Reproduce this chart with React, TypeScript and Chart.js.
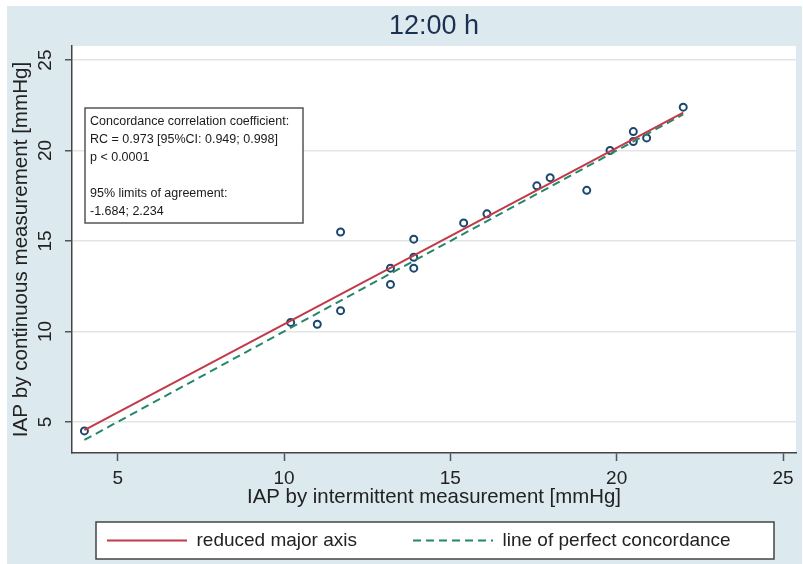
import React, { useEffect, useRef } from 'react';
import { Chart, registerables } from 'chart.js';

Chart.register(...registerables);

const titleText = '12:00 h';
const xTitle = 'IAP by intermittent measurement [mmHg]';
const yTitle = 'IAP by continuous measurement [mmHg]';
const tickValues = [5, 10, 15, 20, 25];

const intermittent = [4.0, 10.2, 11.0, 11.7, 11.7, 13.2, 13.2, 13.9, 13.9, 13.9, 15.4, 16.1, 17.6, 18.0, 19.1, 19.8, 20.5, 20.5, 20.9, 22.0];
const continuous = [4.5, 10.5, 10.4, 15.5, 11.15, 13.5, 12.6, 15.1, 14.1, 13.5, 16.0, 16.5, 18.05, 18.5, 17.8, 20.0, 21.05, 20.5, 20.7, 22.4];

const rmaX = [4, 22];
const rmaY = [4.55, 22.1];
const perfectX = [4, 22];
const perfectY = [4, 22];

const legendLabels = ['reduced major axis', 'line of perfect concordance'];

const infoLines = [
  'Concordance correlation coefficient:',
  'RC = 0.973 [95%CI: 0.949; 0.998]',
  'p < 0.0001',
  '',
  '95% limits of agreement:',
  '-1.684; 2.234',
];

const FONT = '"Liberation Sans", Arial, Helvetica, sans-serif';
const RED = '#c23a48';
const GREEN = '#23886a';
const NAVY = '#1a476f';
const TEXT = '#222222';

const decorPlugin = {
  id: 'decor',
  afterLayout(chart: any) {
    const ca = chart.chartArea;
    const tb = chart.titleBlock;
    if (tb) {
      tb.left = ca.left;
      tb.right = ca.right;
      tb.width = ca.right - ca.left;
    }
    const lg = chart.legend;
    if (lg && lg.lineWidths) {
      const pad = lg.options.labels.padding;
      const R = chart.width;
      const lw = lg.lineWidths[0];
      const target = 100;
      lg.right = R;
      lg.left = 2 * target - pad - R + lw;
      lg.width = lg.right - lg.left;
      lg.top = 534.5 - pad - 9.5;
      lg.height = 90;
      lg.bottom = lg.top + lg.height;
    }
  },
  beforeDraw(chart: any) {
    const { ctx, chartArea: ca } = chart;
    ctx.save();
    ctx.fillStyle = '#ffffff';
    ctx.fillRect(ca.left, ca.top, ca.right - ca.left, ca.bottom - ca.top);
    const cx = (ca.left + ca.right) / 2 + 1;
    const top = 516;
    ctx.fillStyle = '#ffffff';
    ctx.fillRect(cx - 339, top, 678, 37);
    ctx.strokeStyle = '#444444';
    ctx.lineWidth = 1.5;
    ctx.strokeRect(cx - 339, top, 678, 37);
    ctx.restore();
  },
  afterDraw(chart: any) {
    const { ctx, chartArea: ca } = chart;
    const x0 = ca.left + 13;
    const y0 = ca.top + 62;
    ctx.save();
    ctx.fillStyle = '#ffffff';
    ctx.fillRect(x0, y0, 218, 115);
    ctx.strokeStyle = '#555555';
    ctx.lineWidth = 1.5;
    ctx.strokeRect(x0, y0, 218, 115);
    ctx.fillStyle = '#1a1a1a';
    ctx.font = `12.5px ${FONT}`;
    ctx.textBaseline = 'middle';
    ctx.textAlign = 'left';
    infoLines.forEach((t, i) => {
      if (t) ctx.fillText(t, x0 + 5, y0 + 14 + i * 18);
    });
    ctx.restore();
  },
};

export default function App() {
  const ref = useRef<HTMLCanvasElement | null>(null);

  useEffect(() => {
    if (!ref.current) return;
    const setTicks = (s: any) => {
      s.ticks = tickValues.map((v) => ({ value: v }));
    };
    const chart = new Chart(ref.current, {
      type: 'scatter',
      data: {
        datasets: [
          {
            label: legendLabels[0],
            data: rmaX.map((x, i) => ({ x, y: rmaY[i] })),
            showLine: true,
            borderColor: RED,
            backgroundColor: RED,
            borderWidth: 2,
            pointRadius: 0,
            fill: false,
            order: 0,
          },
          {
            label: legendLabels[1],
            data: perfectX.map((x, i) => ({ x, y: perfectY[i] })),
            showLine: true,
            borderColor: GREEN,
            backgroundColor: GREEN,
            borderWidth: 2,
            borderDash: [8, 5],
            pointRadius: 0,
            fill: false,
            order: 1,
          },
          {
            label: 'observations',
            data: intermittent.map((x, i) => ({ x, y: continuous[i] })),
            showLine: false,
            borderColor: NAVY,
            backgroundColor: 'rgba(0,0,0,0)',
            pointRadius: 3.5,
            pointBorderWidth: 2,
            borderWidth: 2,
            order: 2,
          },
        ],
      },
      options: {
        animation: false,
        responsive: true,
        maintainAspectRatio: false,
        layout: { padding: { left: 0, right: 1, top: 0, bottom: 4.5 } },
        plugins: {
          tooltip: { enabled: false },
          title: {
            display: true,
            text: titleText,
            color: '#1e3050',
            font: { size: 27, family: FONT, weight: 'normal' },
            padding: { top: 4.5, bottom: 3.1 },
          },
          legend: {
            display: true,
            position: 'bottom',
            maxHeight: 60,
            labels: {
              usePointStyle: true,
              pointStyle: 'line',
              pointStyleWidth: 80,
              padding: 56,
              color: TEXT,
              font: { size: 19, family: FONT },
              generateLabels: (c: any) => {
                const items = (Chart as any).defaults.plugins.legend.labels.generateLabels(c);
                return items
                  .filter((it: any) => it.datasetIndex < 2)
                  .map((it: any) => {
                    const ds: any = c.data.datasets[it.datasetIndex];
                    return {
                      ...it,
                      pointStyle: 'line',
                      lineWidth: 2,
                      strokeStyle: ds.borderColor,
                      fillStyle: ds.borderColor,
                      lineDash: ds.borderDash || [],
                    };
                  });
              },
            },
          },
        },
        scales: {
          x: {
            type: 'linear',
            min: 3.627,
            max: 25.39,
            afterBuildTicks: setTicks,
            afterFit: (s: any) => {
              s.height = 46.5;
            },
            grid: {
              display: true,
              drawOnChartArea: false,
              drawTicks: true,
              tickLength: 8,
              tickColor: '#555555',
              tickWidth: 1.5,
            },
            border: { display: true, color: '#444444', width: 1.5 },
            ticks: {
              font: { size: 19, family: FONT },
              color: TEXT,
              padding: 6,
              autoSkip: false,
              minRotation: 0,
              maxRotation: 0,
            },
            title: {
              display: true,
              text: xTitle,
              color: TEXT,
              font: { size: 20.4, family: FONT },
              padding: { top: 0, bottom: -10 },
            },
          },
          y: {
            type: 'linear',
            min: 3.28,
            max: 25.78,
            afterBuildTicks: setTicks,
            afterFit: (s: any) => {
              s.width = 65;
            },
            grid: {
              display: true,
              color: '#e2e5e8',
              lineWidth: 1.5,
              drawTicks: true,
              tickLength: 7,
              tickColor: '#555555',
              tickWidth: 1.5,
            },
            border: { display: true, color: '#444444', width: 1.5 },
            ticks: {
              font: { size: 19, family: FONT },
              color: TEXT,
              padding: 9,
              minRotation: 90,
              maxRotation: 90,
              crossAlign: 'center',
              autoSkip: false,
            },
            title: {
              display: true,
              text: yTitle,
              color: TEXT,
              font: { size: 20.6, family: FONT },
              padding: { top: 2.2, bottom: 0 },
            },
          },
        },
      },
      plugins: [decorPlugin],
    } as any);
    return () => chart.destroy();
  }, []);

  return (
    <div
      style={{
        position: 'fixed',
        left: 7,
        top: 6,
        width: 795,
        height: 558,
        background: '#dce9ee',
      }}
    >
      <canvas ref={ref} />
    </div>
  );
}
